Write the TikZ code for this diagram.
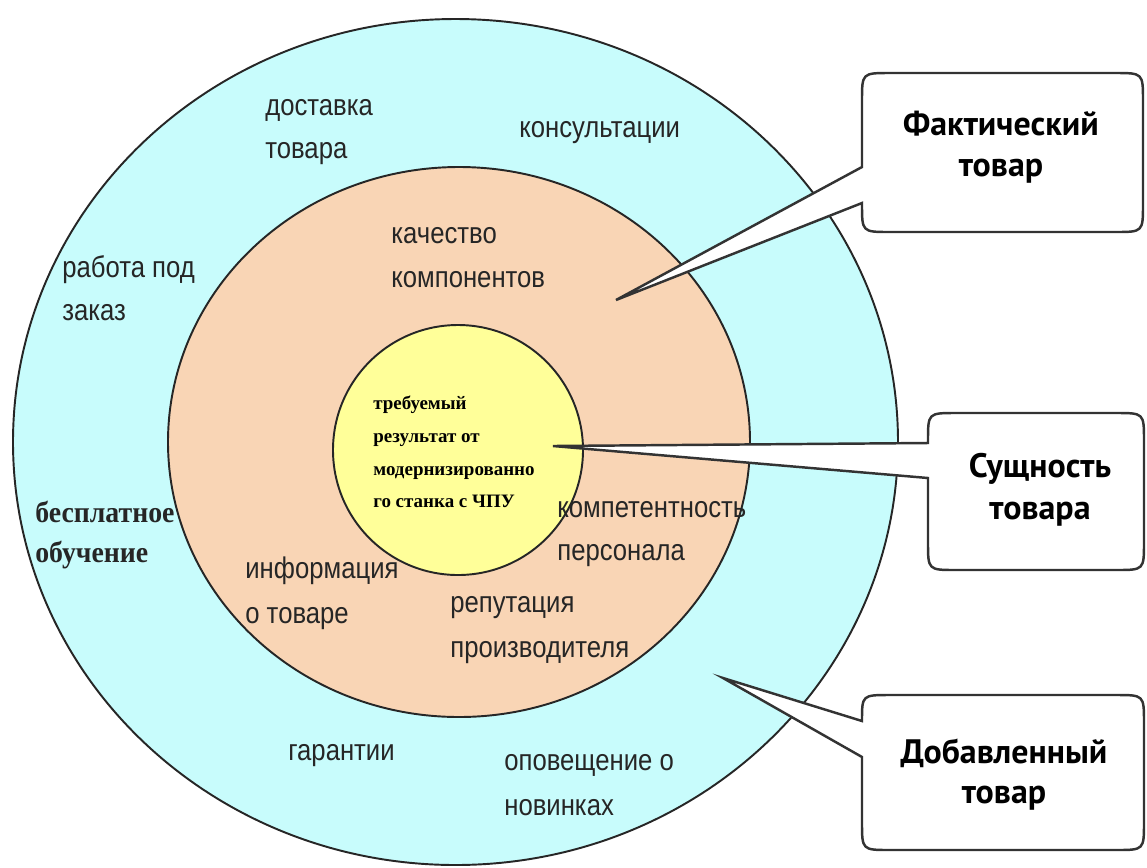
\documentclass[tikz,border=0pt]{standalone}
\usepackage{fontspec}
\newfontfamily\mainsans[FakeStretch=0.86]{Liberation Sans}
\newfontfamily\bserif[FakeStretch=0.93]{Liberation Serif}
\newfontfamily\innerserif{Liberation Serif}
\newfontfamily\callfont{PT Sans}
\definecolor{outerc}{HTML}{C8FCFC}
\definecolor{midc}{HTML}{F9D5B5}
\definecolor{innerc}{HTML}{FFFF99}
\begin{document}
\begin{tikzpicture}[x=0.02cm,y=-0.02cm,
  ring/.style={draw=black!85, line width=1.1pt},
  lbl/.style={anchor=base west, inner sep=0, text=black!85,
    font=\mainsans\fontsize{17}{20}\selectfont},
  bs/.style={anchor=base west, inner sep=0, text=black!85,
    font=\bserif\bfseries\fontsize{17}{20}\selectfont},
  inl/.style={anchor=base west, inner sep=0, text=black,
    font=\innerserif\bfseries\fontsize{10.8}{12}\selectfont},
  ct/.style={anchor=base, inner sep=0, text=black,
    font=\callfont\bfseries\fontsize{19.3}{22}\selectfont},
  callout/.style={draw=black!80, line width=1.4pt, fill=white, line join=miter}]
\useasboundingbox (0,0) rectangle (1147,867);
\fill[white] (0,0) rectangle (1147,867);

% rings
\draw[ring, fill=outerc] (455.5,442) ellipse [x radius=442.5, y radius=423];
\draw[ring, fill=midc] (459,442) ellipse [x radius=291, y radius=275];
\draw[ring, fill=innerc] (458,450) circle [radius=125];

% outer ring labels
\node[lbl] (dost1) at (265,115) {доставка};
\node[lbl] (dost2) at (265,158) {товара};
\node[lbl] (kons) at (519,137) {консультации};
\node[lbl] (rab1) at (62,277) {работа под};
\node[lbl] (rab2) at (62,320) {заказ};
\node[bs] (besp1) at (35,522) {бесплатное};
\node[bs] (besp2) at (35,562) {обучение};
\node[lbl] (gar) at (288,760) {гарантии};
\node[lbl] (opov1) at (504,770) {оповещение о};
\node[lbl] (opov2) at (504,815) {новинках};

% middle ring labels
\node[lbl] (kach1) at (391,243) {качество};
\node[lbl] (kach2) at (391,287) {компонентов};
\node[lbl] (komp1) at (557,517) {компетентность};
\node[lbl] (komp2) at (557,560) {персонала};
\node[lbl] (inf1) at (245,578) {информация};
\node[lbl] (inf2) at (245,623) {о товаре};
\node[lbl] (rep1) at (450,612) {репутация};
\node[lbl] (rep2) at (450,657) {производителя};

% core labels
\node[inl] (in1) at (373,409) {требуемый};
\node[inl] (in2) at (373,442) {результат от};
\node[inl] (in3) at (373,475) {модернизированно};
\node[inl] (in4) at (373,507) {го станка с ЧПУ};

% callouts
\coordinate (t1) at (616,300);
\coordinate (t2) at (553,446);
\coordinate (t3) at (723,678);

\draw[callout] (862,167) -- (t1) -- (862,203) -- (862,204)
  .. controls (862,232) .. (890,232) -- (1115,232)
  .. controls (1143,232) .. (1143,204) -- (1143,101)
  .. controls (1143,73) .. (1115,73) -- (890,73)
  .. controls (862,73) .. (862,101) -- cycle;
\draw[callout] (928,443) -- (t2) -- (928,478) -- (928,542)
  .. controls (928,570) .. (956,570) -- (1116,570)
  .. controls (1144,570) .. (1144,542) -- (1144,441)
  .. controls (1144,413) .. (1116,413) -- (956,413)
  .. controls (928,413) .. (928,441) -- cycle;
\draw[callout] (862,721) -- (t3) -- (862,757) -- (862,822)
  .. controls (862,850) .. (890,850) -- (1116,850)
  .. controls (1144,850) .. (1144,822) -- (1144,723)
  .. controls (1144,695) .. (1116,695) -- (890,695)
  .. controls (862,695) .. (862,721) -- cycle;

\node[ct] (c1a) at (1001,135) {Фактический};
\node[ct] (c1b) at (1001,176) {товар};
\node[ct] (c2a) at (1040,477) {Сущность};
\node[ct] (c2b) at (1040,519) {товара};
\node[ct] (c3a) at (1004,763) {Добавленный};
\node[ct] (c3b) at (1004,803) {товар};
\end{tikzpicture}
\end{document}
